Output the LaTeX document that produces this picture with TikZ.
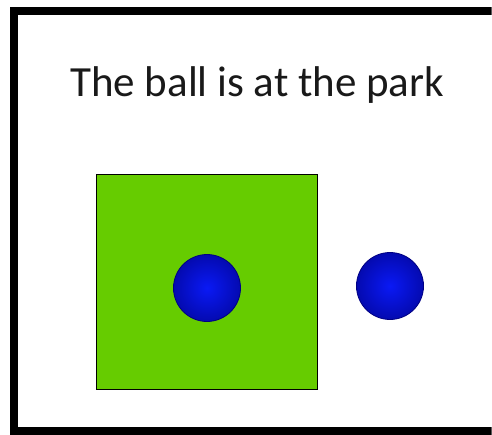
\documentclass[tikz,border=0pt]{standalone}
\usepackage{fontspec}
\setmainfont{Carlito}
\usetikzlibrary{positioning}

\definecolor{parkgreen}{RGB}{102,204,0}
\definecolor{ballblue}{RGB}{10,25,245}
\definecolor{balledge}{RGB}{0,0,130}

\begin{document}
\begin{tikzpicture}[
  x=1pt, y=1pt,
  park/.style ={draw=black, line width=0.8pt, fill=parkgreen, minimum width=221pt, minimum height=215pt, inner sep=0pt},
  ball/.style ={circle, draw=balledge, line width=0.8pt, inner color=ballblue, outer color=balledge!60!ballblue, minimum size=67pt, inner sep=0pt},
  caption/.style={font=\fontsize{43}{50}\selectfont, text=black!90, inner sep=0pt},
]
\useasboundingbox (0,0) rectangle (492,434);

% ---------- frame ----------
\begin{scope}
\clip (0,0) rectangle (491.5,434);
\draw[line width=8pt] (500,423) -- (14,423) -- (14,3.5) -- (500,3.5);
\end{scope}

% ---------- sentence ----------
\node[caption, anchor=base west] (sentence) at (70,337) {The ball is at the park};

% ---------- park and balls ----------
\node[park] (park) at (206.5,152.5) {};
\node[ball] (ballin)  at (207,146) {};
\node[ball] (ballout) at (390,148) {};

\end{tikzpicture}
\end{document}
